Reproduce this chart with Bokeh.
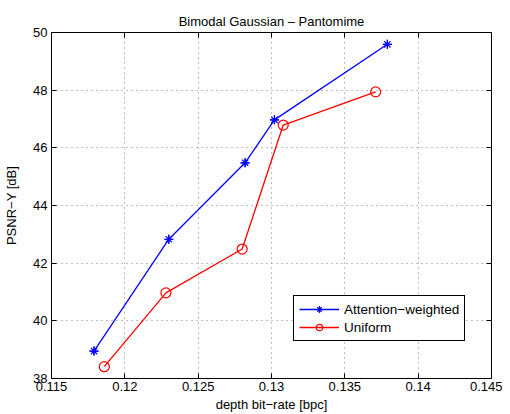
from bokeh.plotting import figure
from bokeh.models import LinearAxis, FixedTicker, Legend, LegendItem, Range1d
from bokeh.embed import file_html
from bokeh.resources import INLINE

# Data
aw_x = [0.1179, 0.1230, 0.1282, 0.1302, 0.1379]
aw_y = [38.95, 42.83, 45.48, 46.97, 49.59]
un_x = [0.1186, 0.1228, 0.1280, 0.1308, 0.1371]
un_y = [38.41, 40.97, 42.49, 46.79, 47.94]

x_ticks = [0.115, 0.12, 0.125, 0.13, 0.135, 0.14, 0.145]
y_ticks = [38, 40, 42, 44, 46, 48, 50]
x_tick_labels = {0.115: "0.115", 0.12: "0.12", 0.125: "0.125", 0.13: "0.13",
                 0.135: "0.135", 0.14: "0.14", 0.145: "0.145"}

FONT = "Liberation Sans"

p = figure(width=502, height=414, output_backend="svg", toolbar_location=None,
           x_range=Range1d(0.115, 0.145), y_range=Range1d(38, 50),
           min_border_left=51, min_border_right=11, min_border_top=32, min_border_bottom=36,
           title="Bimodal Gaussian \u2013 Pantomime")
p.title.align = "center"
p.title.text_font = FONT
p.title.text_font_size = "13px"
p.title.text_font_style = "normal"
p.title.text_color = "black"
p.title.offset = 0
p.title.standoff = 8

p.outline_line_color = "black"
p.outline_line_width = 1

for ax in [p.xaxis[0], p.yaxis[0]]:
    ax.major_tick_in = 5
    ax.major_tick_out = 0
    ax.minor_tick_line_color = None
    ax.major_label_text_font = FONT
    ax.major_label_text_font_size = "13px"
    ax.major_label_text_color = "black"
    ax.axis_label_text_font = FONT
    ax.axis_label_text_font_size = "13px"
    ax.axis_label_text_font_style = "normal"
    ax.axis_label_text_color = "black"
    ax.axis_line_color = "black"
    ax.major_tick_line_color = "black"

p.xaxis[0].ticker = FixedTicker(ticks=x_ticks)
p.xaxis[0].major_label_overrides = x_tick_labels
p.yaxis[0].ticker = FixedTicker(ticks=y_ticks)
p.xaxis[0].axis_label = "depth bit\u2212rate [bpc]"
p.yaxis[0].axis_label = "PSNR\u2212Y [dB]"
p.xaxis[0].axis_label_standoff = 3
p.yaxis[0].axis_label_standoff = 11
p.xaxis[0].major_label_standoff = 3
p.yaxis[0].major_label_standoff = 4

top = LinearAxis(ticker=FixedTicker(ticks=x_ticks),
                 major_label_overrides={t: "" for t in x_ticks},
                 major_tick_in=5, major_tick_out=0, minor_tick_line_color=None,
                 axis_line_color="black", major_label_standoff=0)
right = LinearAxis(ticker=FixedTicker(ticks=y_ticks),
                   major_label_overrides={t: "" for t in y_ticks},
                   major_tick_in=5, major_tick_out=0, minor_tick_line_color=None,
                   axis_line_color="black", major_label_standoff=0)
p.add_layout(top, "above")
p.add_layout(right, "right")

p.xgrid.ticker = FixedTicker(ticks=x_ticks)
p.ygrid.ticker = FixedTicker(ticks=y_ticks)
for g in [p.xgrid[0], p.ygrid[0]]:
    g.grid_line_color = "#444444"
    g.grid_line_alpha = 0.7
    g.grid_line_dash = "1 4"
    g.grid_line_width = 1

l1 = p.line(aw_x, aw_y, line_color="#0000ff", line_width=1.3)
s1 = p.scatter(aw_x, aw_y, marker="asterisk", size=9, line_color="#0000ff", line_width=1.2)
s1b = p.scatter(aw_x, aw_y, marker="cross", size=9, line_color="#0000ff", line_width=1.2)
l2 = p.line(un_x, un_y, line_color="#ff0000", line_width=1.3)
s2 = p.scatter(un_x, un_y, marker="circle", size=10, line_color="#ff0000", fill_color=None, line_width=1.2)

legend = Legend(items=[LegendItem(label="Attention\u2212weighted", renderers=[l1, s1, s1b]),
                       LegendItem(label="Uniform", renderers=[l2, s2])],
                location=(242, 37))
legend.border_line_color = "black"
legend.border_line_width = 1
legend.border_line_alpha = 1
legend.background_fill_alpha = 1
legend.label_text_font = FONT
legend.label_text_font_size = "13.5px"
legend.label_text_color = "black"
legend.glyph_width = 40
legend.glyph_height = 16
legend.label_standoff = 5
legend.padding = 5
legend.spacing = 2
legend.margin = 0
legend.label_height = 16
p.add_layout(legend, "center")

open("out.html", "w").write(file_html(p, INLINE))
